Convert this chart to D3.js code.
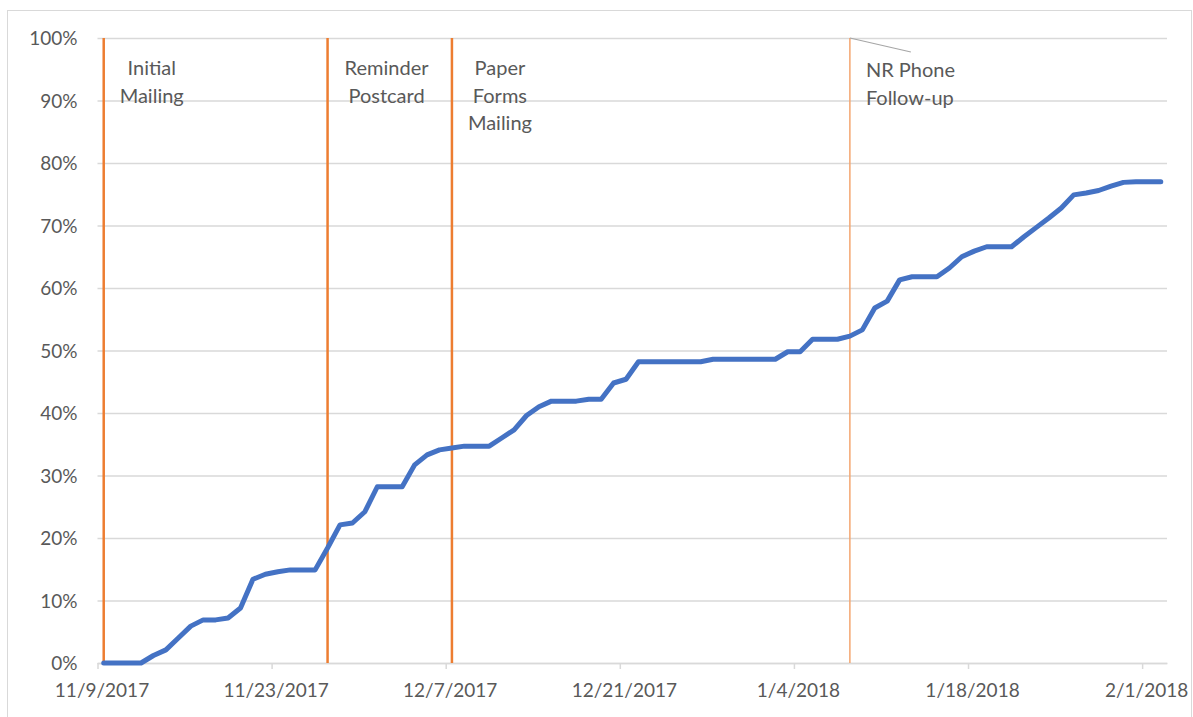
<!DOCTYPE html>
<html>
<head>
<meta charset="utf-8">
<script src="https://cdn.jsdelivr.net/npm/d3@7"></script>
<style>
  body { margin: 0; background: #fff; }
  text { font-family: Lato, "Liberation Sans", sans-serif; fill: #595959; }
</style>
</head>
<body>
<div id="chart"></div>
<script>
// Response rate by day, starting 11/9/2017 (one value per day)
var startDate = "11/9/2017";
var responseRate = [
    0, 0, 0, 0, 1.2, 2.1, 4.0, 5.9, 6.9, 6.9,
    7.2, 8.8, 13.4, 14.2, 14.6, 14.9, 14.9, 14.9, 18.4, 22.1,
    22.4, 24.2, 28.2, 28.2, 28.2, 31.7, 33.3, 34.1, 34.4, 34.7,
    34.7, 34.7, 36.0, 37.3, 39.6, 41.0, 41.9, 41.9, 41.9, 42.2,
    42.2, 44.8, 45.4, 48.2, 48.2, 48.2, 48.2, 48.2, 48.2, 48.6,
    48.6, 48.6, 48.6, 48.6, 48.6, 49.8, 49.8, 51.8, 51.8, 51.8,
    52.3, 53.3, 56.8, 57.9, 61.3, 61.8, 61.8, 61.8, 63.2, 65.0,
    65.9, 66.6, 66.6, 66.6, 68.2, 69.7, 71.2, 72.8, 74.9, 75.2,
    75.6, 76.3, 76.9, 77.0, 77.0, 77.0
];

// Contact events (vertical lines)
var eventDates = ["11/9/2017", "11/27/2017", "12/7/2017", "1/8/2018"];
var eventLabels = [["Initial", "Mailing"], ["Reminder", "Postcard"], ["Paper", "Forms", "Mailing"], ["NR Phone", "Follow-up"]];

// Axis ticks
var xTickLabels = ["11/9/2017", "11/23/2017", "12/7/2017", "12/21/2017", "1/4/2018", "1/18/2018", "2/1/2018"];
var yTickValues = [0, 10, 20, 30, 40, 50, 60, 70, 80, 90, 100];

var parseDate = d3.timeParse("%m/%d/%Y");
var start = parseDate(startDate);

var data = responseRate.map((v, i) => ({ date: d3.timeDay.offset(start, i), value: v }));

var width = 1193, height = 717;
var svg = d3.select("#chart")
    .append("svg")
    .attr("width", width)
    .attr("height", height);

// Chart frame
svg.append("rect")
    .attr("x", 7.5).attr("y", 10.5)
    .attr("width", 1184).attr("height", 720)
    .attr("fill", "none")
    .attr("stroke", "#d9d9d9");

var x = d3.scaleTime()
    .domain([start, d3.timeDay.offset(start, 86)])
    .range([97.5, 1167]);

var y = d3.scaleLinear()
    .domain([0, 100])
    .range([663, 38]);

// Points sit in the middle of each day
var mid = d => d3.timeHour.offset(d, 12);

// Y axis + gridlines
var yAxis = svg.append("g")
    .attr("transform", "translate(97.5,0)")
    .call(d3.axisLeft(y)
        .tickValues(yTickValues)
        .tickSize(-(1167 - 97.5))
        .tickPadding(20)
        .tickFormat(d => d + "%"));
yAxis.select(".domain").remove();
yAxis.selectAll(".tick line").attr("stroke", "#d9d9d9").attr("stroke-width", 1.5);
yAxis.selectAll(".tick text")
    .style("font-size", "19px")
    .attr("dy", "0.36em");

// X axis
var xAxis = svg.append("g")
    .attr("transform", "translate(0,663)")
    .call(d3.axisBottom(x)
        .tickValues(xTickLabels.map(parseDate))
        .tickSize(6)
        .tickSizeOuter(0)
        .tickPadding(15)
        .tickFormat(d3.timeFormat("%-m/%-d/%Y")));
xAxis.select(".domain").attr("stroke", "#d9d9d9").attr("stroke-width", 1.5);
xAxis.selectAll(".tick line").attr("stroke", "#d9d9d9").attr("stroke-width", 1.5);
xAxis.selectAll(".tick text")
    .style("font-size", "19px")
    .attr("dx", 4);

// Event lines
var events = eventDates.map((d, i) => ({ date: parseDate(d), label: eventLabels[i], last: i == eventDates.length - 1 }));

svg.selectAll("eventLine")
    .data(events)
    .enter()
    .append("line")
    .attr("x1", d => x(mid(d.date)))
    .attr("x2", d => x(mid(d.date)))
    .attr("y1", y(100))
    .attr("y2", y(0))
    .attr("stroke", d => d.last ? "#f4a670" : "#ed7d31")
    .attr("stroke-width", d => d.last ? 1.5 : 2.5);

// Leader line for the phone follow-up label
var phone = events[3];
svg.append("line")
    .attr("x1", x(mid(phone.date)))
    .attr("y1", y(100))
    .attr("x2", x(mid(phone.date)) + 61)
    .attr("y2", y(100) + 14)
    .attr("stroke", "#a6a6a6")
    .attr("stroke-width", 1.2);

// Event labels
var labelPos = [
    { dx: 48, y: 75, anchor: "middle" },
    { dx: 59, y: 75, anchor: "middle" },
    { dx: 48, y: 75, anchor: "middle" },
    { dx: 16, y: 77, anchor: "start" }
];
events.forEach((ev, i) => {
    var t = svg.append("text")
        .attr("x", x(mid(ev.date)) + labelPos[i].dx)
        .attr("y", labelPos[i].y)
        .attr("text-anchor", labelPos[i].anchor)
        .style("font-size", "20px");
    t.selectAll("tspan")
        .data(ev.label)
        .enter()
        .append("tspan")
        .attr("x", x(mid(ev.date)) + labelPos[i].dx)
        .attr("dy", (d, j) => j == 0 ? 0 : 27.5)
        .text(d => d);
});

// Response line
var line = d3.line()
    .x(d => x(mid(d.date)))
    .y(d => y(d.value));

svg.append("path")
    .datum(data)
    .attr("fill", "none")
    .attr("stroke", "#4472c4")
    .attr("stroke-width", 5)
    .attr("stroke-linejoin", "round")
    .attr("stroke-linecap", "round")
    .attr("d", line);
</script>
</body>
</html>
